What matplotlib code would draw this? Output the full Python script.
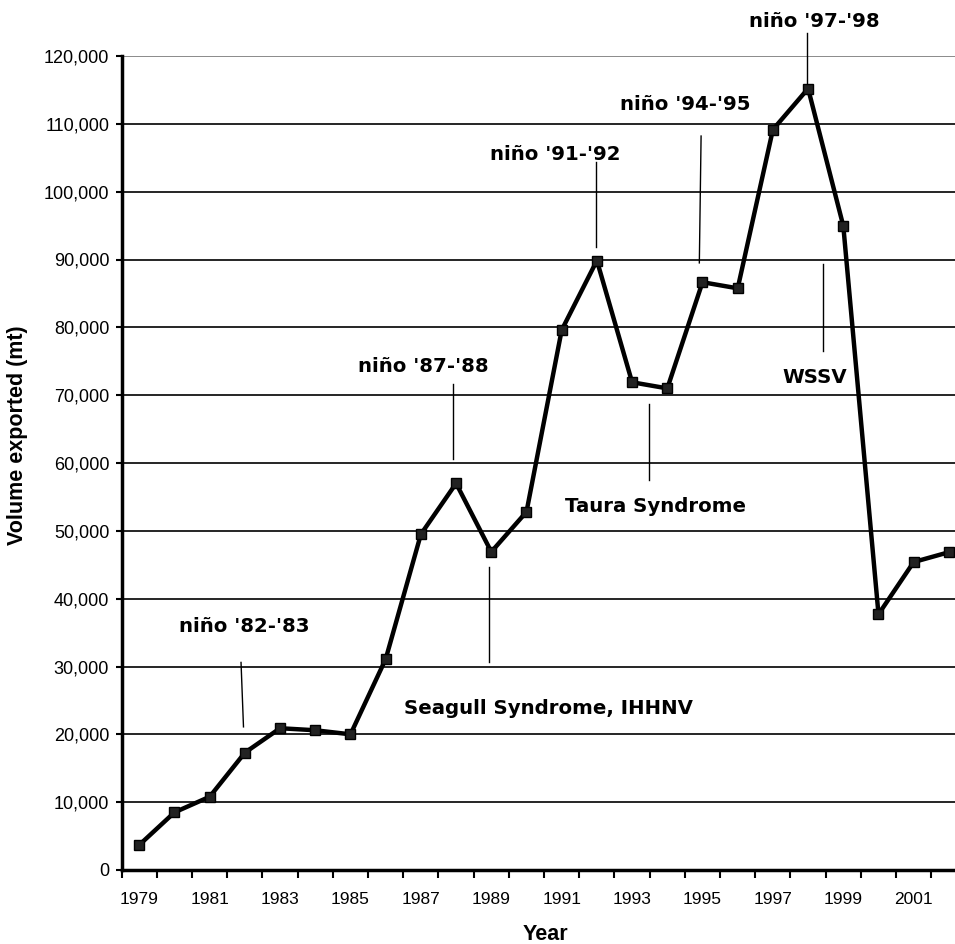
import numpy as np
import matplotlib
matplotlib.use("Agg")
import matplotlib.pyplot as plt

# exported volume per year (mt)
years = np.arange(1979, 2003)
volume = [3700, 8500, 10800, 17300, 20900, 20600, 20000, 31100, 49500, 57000,
          46900, 52800, 79600, 89850, 71900, 71000, 86650, 85750, 109150, 115200,
          94950, 37700, 45400, 46850]

# event annotations: label, text position, line (x0, y0, x1, y1)
labels = ["niño '82-'83", "niño '87-'88", "Seagull Syndrome, IHHNV", "niño '91-'92",
          "Taura Syndrome", "niño '94-'95", "niño '97-'98", "WSSV"]
text_x = [1981.97, 1987.08, 1990.62, 1990.82, 1993.66, 1994.5, 1998.17, 1998.19]
text_y = [35900, 74200, 23800, 105500, 53600, 112900, 125100, 72600]
line_x0 = [1981.89, 1987.92, 1988.94, 1991.97, 1993.48, 1994.96, 1997.98, 1998.43]
line_x1 = [1981.96, 1987.92, 1988.94, 1991.97, 1993.48, 1994.91, 1997.98, 1998.43]
line_y0 = [30600, 71600, 44700, 104300, 68700, 108200, 123400, 89300]
line_y1 = [21100, 60600, 30600, 91900, 57500, 89500, 115700, 76500]

yticks = np.arange(0, 120001, 10000)

fig = plt.figure(figsize=(9.55, 9.44), dpi=100)
ax = fig.add_axes([121.7 / 955, 1 - 870 / 944, 844.8 / 955, 814 / 944])

for v in yticks[1:]:
    ax.axhline(v, color="black" if v < 120000 else "#777777", lw=1.2, zorder=1)

ax.plot(years, volume, color="black", lw=3.2, marker="s", markersize=7.5,
        mfc="#222222", mec="black", mew=1, zorder=3, clip_on=False)

for i in range(len(labels)):
    ax.plot([line_x0[i], line_x1[i]], [line_y0[i], line_y1[i]], color="black", lw=1, zorder=2,
            clip_on=False)
    ax.text(text_x[i], text_y[i], labels[i], ha="center", va="center", fontsize=14.2,
            fontweight="bold", family="DejaVu Sans", clip_on=False)

ax.set_xlim(1978.5, 2002.5)
ax.set_ylim(0, 120000)
ax.set_xticks(np.arange(1978.5, 2002.6, 1))
ax.set_xticklabels([])
ax.set_xticks(years[::2], minor=True)
ax.set_xticklabels([str(y) for y in years[::2]], minor=True, fontsize=12.5, family="Liberation Sans")
ax.tick_params(axis="x", which="major", length=6, width=1.5, direction="out")
ax.tick_params(axis="x", which="minor", length=0, pad=16)
ax.set_yticks(yticks)
ax.set_yticklabels([f"{v:,}" for v in yticks], fontsize=13, family="Liberation Sans")
ax.tick_params(axis="y", length=4, width=1.5, pad=5)

for s in ["top", "right"]:
    ax.spines[s].set_visible(False)
ax.spines["left"].set_linewidth(2.5)
ax.spines["bottom"].set_linewidth(2.5)

fig.text(545 / 955, 1 - 935 / 944, "Year", ha="center", va="center", fontsize=15.5,
         fontweight="bold", family="Liberation Sans")
fig.text(18 / 955, 1 - 435 / 944, "Volume exported (mt)", ha="center", va="center",
         rotation=90, fontsize=15.5, fontweight="bold", family="Liberation Sans")

fig.savefig("out.png", dpi=100)
